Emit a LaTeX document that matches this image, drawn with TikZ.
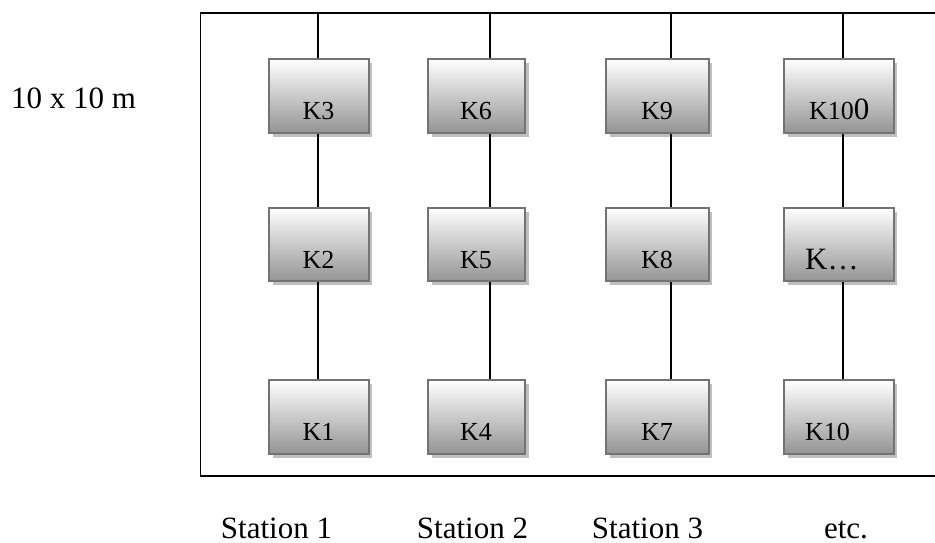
\documentclass[tikz,border=0pt]{standalone}
\usepackage{fontspec}
\setmainfont{Liberation Serif}
\usetikzlibrary{shadows}
\begin{document}
\begin{tikzpicture}[x=1pt,y=-1pt,
  kbox/.style={draw=black!55, line width=2.4pt, top color=white, bottom color=black!42,
    inner sep=0pt, minimum height=73.5pt,
    drop shadow={shadow xshift=3.5pt, shadow yshift=-4pt, fill=black!25, opacity=1}},
  klbl/.style={anchor=base, inner sep=0pt, font=\fontsize{26}{30}\selectfont},
  big/.style={inner sep=0pt, font=\fontsize{31}{36}\selectfont},
  wire/.style={line width=1.8pt, black},
  frame/.style={line width=1.8pt, black}]
\useasboundingbox (0,0) rectangle (935,543);
% frame (right side lies beyond the picture)
\coordinate (ftr) at (940,13);
\coordinate (ftl) at (200.5,13);
\coordinate (fbl) at (200.5,476);
\coordinate (fbr) at (940,476);
\draw[frame] (ftr) -- (ftl) -- (fbl) -- (fbr);
% wire tops
\coordinate (w1) at (318,13);
\coordinate (w2) at (490,13);
\coordinate (w3) at (671,13);
\coordinate (w4) at (843,13);
% boxes
\node[kbox, minimum width=99.5pt] (k3) at (319,96) {};
\node[kbox, minimum width=99.5pt] (k2) at (319,244.5) {};
\node[kbox, minimum width=99.5pt] (k1) at (319,417) {};
\node[kbox, minimum width=97pt] (k6) at (476.5,96) {};
\node[kbox, minimum width=97pt] (k5) at (476.5,244.5) {};
\node[kbox, minimum width=97pt] (k4) at (476.5,417) {};
\node[kbox, minimum width=102.5pt] (k9) at (657.5,96) {};
\node[kbox, minimum width=102.5pt] (k8) at (657.5,244.5) {};
\node[kbox, minimum width=102.5pt] (k7) at (657.5,417) {};
\node[kbox, minimum width=109.5pt] (k100) at (839,96) {};
\node[kbox, minimum width=109.5pt] (kx) at (839,244.5) {};
\node[kbox, minimum width=109.5pt] (k10) at (839,417) {};
% wires
\foreach \w/\a/\b/\c in {w1/k3/k2/k1, w2/k6/k5/k4, w3/k9/k8/k7, w4/k100/kx/k10}{
  \draw[wire] (\w) -- (\w |- \a.north);
  \draw[wire] (\a.south -| \w) -- (\b.north -| \w);
  \draw[wire] (\b.south -| \w) -- (\c.north -| \w);
}
% box labels
\node[klbl] (t3) at (318.5,119) {K3};
\node[klbl] (t2) at (318.5,268) {K2};
\node[klbl] (t1) at (318.5,440) {K1};
\node[klbl] (t6) at (476,119) {K6};
\node[klbl] (t5) at (476,268) {K5};
\node[klbl] (t4) at (476,440) {K4};
\node[klbl] (t9) at (657,119) {K9};
\node[klbl] (t8) at (657,268) {K8};
\node[klbl] (t7) at (657,440) {K7};
\node[klbl, anchor=base west] (t100) at (809,120) {K10{\fontsize{31}{36}\selectfont 0}};
\node[big, anchor=base west] (tx) at (805,269) {K…};
\node[klbl, anchor=base west] (t10) at (805,440) {K10};
% outside texts
\node[big, anchor=base west] (size) at (11,108) {10 x 10 m};
\node[big, anchor=base] (s1) at (276.5,538) {Station 1};
\node[big, anchor=base] (s2) at (472.5,538) {Station 2};
\node[big, anchor=base] (s3) at (647.5,538) {Station 3};
\node[big, anchor=base] (s4) at (846,538) {etc.};
\end{tikzpicture}
\end{document}
